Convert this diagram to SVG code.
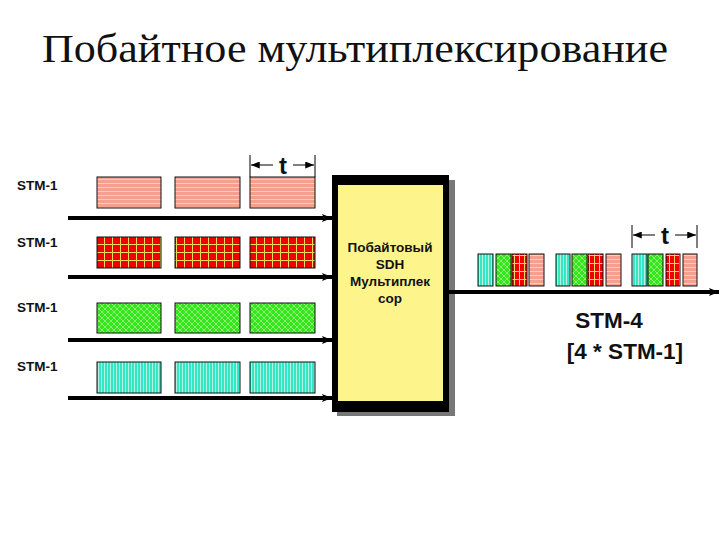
<svg xmlns="http://www.w3.org/2000/svg" width="720" height="540" viewBox="0 0 720 540">
<style>
.lbl{font-family:"Liberation Sans",Arial,sans-serif;font-weight:bold;font-size:13.5px;fill:#111}
.mux{font-family:"Liberation Sans",Arial,sans-serif;font-weight:bold;font-size:13.5px;fill:#111;text-anchor:middle}
.big{font-family:"Liberation Sans",Arial,sans-serif;font-weight:bold;font-size:22.5px;fill:#111;text-anchor:middle}
.t{font-family:"Liberation Sans",Arial,sans-serif;font-weight:bold;font-size:24px;fill:#111;text-anchor:middle}
.bus{stroke:#000;stroke-width:4;fill:none}
.dim{stroke:#000;stroke-width:1;fill:none}
.blk{stroke:#111;stroke-width:1}
</style>
<defs>
<pattern id="pPink" width="4" height="4" patternUnits="userSpaceOnUse">
<rect width="4" height="4" fill="#f5a08e"/>
<rect y="3" width="4" height="1" fill="#f6d49a"/>
</pattern>
<pattern id="pRed" width="8" height="8" patternUnits="userSpaceOnUse" x="97" y="237">
<rect width="8" height="8" fill="#ee0000"/>
<rect x="7" width="1" height="8" fill="#f0d860"/>
<rect y="7" width="8" height="1" fill="#f0d860"/>
</pattern>
<pattern id="pRedS" width="5" height="8" patternUnits="userSpaceOnUse">
<rect width="5" height="8" fill="#ee0000"/>
<rect x="4" width="1" height="8" fill="#f0d860"/>
<rect y="7" width="5" height="1" fill="#f0d860"/>
</pattern>
<pattern id="pGreen" width="6" height="6" patternUnits="userSpaceOnUse">
<rect width="6" height="6" fill="#33e81a"/>
<path d="M0 0L6 6M6 0L0 6" stroke="#a6f08a" stroke-width="0.8"/>
</pattern>
<pattern id="pCyan" width="3" height="3" patternUnits="userSpaceOnUse">
<rect width="3" height="3" fill="#33e6c4"/>
<rect x="2" width="1" height="3" fill="#b4f2e2"/>
</pattern>
<marker id="ah" viewBox="0 0 10 8" refX="10" refY="4" markerWidth="10" markerHeight="8" markerUnits="userSpaceOnUse" orient="auto">
<path d="M0 0L10 4L0 8L2 4Z" fill="#000"/>
</marker>
<marker id="dh" viewBox="0 0 10 8" refX="10" refY="4" markerWidth="9" markerHeight="7" markerUnits="userSpaceOnUse" orient="auto">
<path d="M0 0L10 4L0 8Z" fill="#000"/>
</marker>
</defs>
<rect width="720" height="540" fill="#fff"/>
<text x="355" y="62" font-family="'Liberation Serif','Times New Roman',serif" font-size="41" fill="#111" text-anchor="middle" textLength="626" lengthAdjust="spacingAndGlyphs">Побайтное мультиплексирование</text>

<g id="labels">
<text class="lbl" x="17" y="190">STM-1</text>
<text class="lbl" x="17" y="247">STM-1</text>
<text class="lbl" x="17" y="312">STM-1</text>
<text class="lbl" x="17" y="371">STM-1</text>
</g>

<g id="stm1-a">
<rect class="blk" x="97" y="177" width="64" height="31" fill="url(#pPink)"/>
<rect class="blk" x="175" y="177" width="65" height="31" fill="url(#pPink)"/>
<rect class="blk" x="250" y="177" width="65" height="31" fill="url(#pPink)"/>
</g>
<g id="stm1-b">
<rect class="blk" x="97" y="237" width="64" height="31" fill="url(#pRed)"/>
<rect class="blk" x="175" y="237" width="65" height="31" fill="url(#pRed)"/>
<rect class="blk" x="250" y="237" width="65" height="31" fill="url(#pRed)"/>
</g>
<g id="stm1-c">
<rect class="blk" x="97" y="303" width="64" height="30" fill="url(#pGreen)"/>
<rect class="blk" x="175" y="303" width="65" height="30" fill="url(#pGreen)"/>
<rect class="blk" x="250" y="303" width="65" height="30" fill="url(#pGreen)"/>
</g>
<g id="stm1-d">
<rect class="blk" x="97" y="362" width="64" height="31" fill="url(#pCyan)"/>
<rect class="blk" x="175" y="362" width="65" height="31" fill="url(#pCyan)"/>
<rect class="blk" x="250" y="362" width="65" height="31" fill="url(#pCyan)"/>
</g>

<g id="multiplexer">
<rect x="337" y="180" width="118" height="236" fill="#777"/>
<rect x="332" y="175" width="117" height="237" fill="#000"/>
<rect x="338" y="185" width="105" height="216" fill="#fdf58c"/>
<text class="mux" x="390" y="252">Побайтовый</text>
<text class="mux" x="390" y="269">SDH</text>
<text class="mux" x="390" y="286">Мультиплек</text>
<text class="mux" x="390" y="303">сор</text>
</g>

<g id="stm4">
<rect class="blk" x="478" y="254" width="15" height="32" fill="url(#pCyan)"/>
<rect class="blk" x="496" y="254" width="15" height="32" fill="url(#pGreen)"/>
<rect class="blk" x="512" y="254" width="15" height="32" fill="url(#pRedS)"/>
<rect class="blk" x="529" y="254" width="15" height="32" fill="url(#pPink)"/>
<rect class="blk" x="556" y="254" width="14" height="32" fill="url(#pCyan)"/>
<rect class="blk" x="572" y="254" width="15" height="32" fill="url(#pGreen)"/>
<rect class="blk" x="588" y="254" width="15" height="32" fill="url(#pRedS)"/>
<rect class="blk" x="606" y="254" width="15" height="32" fill="url(#pPink)"/>
<rect class="blk" x="632" y="254" width="15" height="32" fill="url(#pCyan)"/>
<rect class="blk" x="648" y="254" width="15" height="32" fill="url(#pGreen)"/>
<rect class="blk" x="666" y="254" width="14" height="32" fill="url(#pRedS)"/>
<rect class="blk" x="683" y="254" width="14" height="32" fill="url(#pPink)"/>
<text class="big" x="609" y="328">STM-4</text>
<text class="big" x="625" y="359">[4 * STM-1]</text>
</g>

<g id="connectors">
<line class="bus" x1="68" y1="218" x2="332" y2="218" marker-end="url(#ah)"/>
<line class="bus" x1="68" y1="277" x2="332" y2="277" marker-end="url(#ah)"/>
<line class="bus" x1="68" y1="340" x2="332" y2="340" marker-end="url(#ah)"/>
<line class="bus" x1="68" y1="398" x2="332" y2="398" marker-end="url(#ah)"/>
<line class="bus" x1="449" y1="292" x2="719" y2="292" marker-end="url(#ah)"/>
</g>

<g id="dim-top">
<line class="dim" x1="250" y1="155" x2="250" y2="177"/>
<line class="dim" x1="315" y1="155" x2="315" y2="177"/>
<line class="dim" x1="273" y1="165" x2="251" y2="165" marker-end="url(#dh)"/>
<line class="dim" x1="293" y1="165" x2="314" y2="165" marker-end="url(#dh)"/>
<text class="t" x="283" y="174">t</text>
</g>
<g id="dim-right">
<line class="dim" x1="632" y1="225" x2="632" y2="248"/>
<line class="dim" x1="697" y1="225" x2="697" y2="248"/>
<line class="dim" x1="655" y1="235" x2="633" y2="235" marker-end="url(#dh)"/>
<line class="dim" x1="675" y1="235" x2="696" y2="235" marker-end="url(#dh)"/>
<text class="t" x="665" y="244">t</text>
</g>
</svg>
